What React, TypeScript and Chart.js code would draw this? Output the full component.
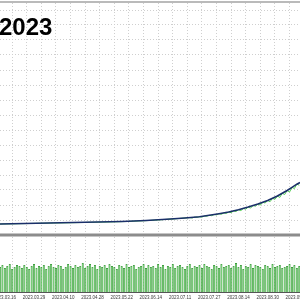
import React, { useEffect, useRef } from "react";
import { Chart, registerables } from "chart.js";
Chart.register(...registerables);

const titleText = "2023";
const tickLabels = [
  "2023.03.16", "2023.03.29", "2023.04.10", "2023.04.28", "2023.05.22", "2023.06.14",
  "2023.07.11", "2023.07.27", "2023.08.14", "2023.08.30", "2023.09.15",
];
const tradeMin = -2;
const tradeMax = 121.3;
const labelEvery = 12;
const gridEvery = 6;

const balanceTrades = [-2, 8, 18, 28, 38, 48, 58, 68, 74, 80, 84, 88, 92, 96, 100, 104, 108, 112, 116, 118, 120, 121.3];
const balanceValues = [1100, 1150, 1200, 1250, 1300, 1350, 1450, 1600, 1700, 1830, 1970, 2130, 2300, 2530, 2800, 3100, 3450, 3900, 4450, 4760, 5080, 5250];

const equityTrades = [
  -2, 10, 20, 30, 40, 50, 60, 70, 76, 77, 78, 79, 80, 81, 82, 83, 84, 85, 86, 87, 88, 89, 90, 91, 92, 93, 94, 95, 96, 97,
  98, 99, 100, 101, 102, 103, 104, 105, 106, 107, 108, 109, 110, 111, 112, 113, 114, 115, 116, 117, 118, 119, 120, 121,
];
const equityValues = [
  1100, 1150, 1200, 1240, 1290, 1350, 1460, 1620, 1740, 1700, 1790, 1760, 1830, 1790, 1900, 1880, 1970, 1930, 2050, 2010,
  2130, 2070, 2210, 2160, 2300, 2230, 2410, 2350, 2530, 2440, 2650, 2580, 2800, 2690, 2950, 2880, 3100, 2990, 3270, 3200,
  3450, 3330, 3670, 3560, 3900, 3760, 4170, 4050, 4450, 4300, 4760, 4650, 5080, 4980,
];

const loadValues = [
  25, 27, 24, 26, 28, 23, 25, 27, 26, 24,
  27, 25, 23, 26, 28, 24, 26, 25, 27, 23,
  26, 28, 25, 24, 27, 26, 23, 25, 28, 26,
  24, 27, 25, 26, 29, 24, 26, 28, 25, 27,
  23, 26, 25, 27, 24, 28, 26, 25, 23, 27,
  26, 24, 28, 25, 26, 27, 23, 25, 26, 28,
  24, 27, 25, 26, 24, 28, 25, 27, 23, 26,
  25, 28, 24, 26, 27, 25, 23, 26, 28, 24,
  26, 25, 27, 24, 28, 26, 25, 23, 27, 26,
  24, 28, 25, 26, 27, 24, 26, 29, 25, 27,
  23, 26, 25, 28, 24, 27, 26, 25, 23, 27,
  26, 24, 28, 25, 26, 27, 24, 25, 26, 28,
  25, 27, 24, 26,
];

const yMin = -5700;
const yMax = 23200;
const yStep = 1500;

const panelPlugin = {
  id: "panels",
  afterDatasetsDraw(chart: any) {
    const { ctx, chartArea } = chart;
    const y = chart.scales.y;
    ctx.save();
    ctx.strokeStyle = "#a3a3a3";
    ctx.lineWidth = 1.5;
    ctx.beginPath();
    ctx.moveTo(chartArea.left, chartArea.top - 1);
    ctx.lineTo(chartArea.right, chartArea.top - 1);
    ctx.stroke();
    const sep = y.getPixelForValue(0);
    ctx.strokeStyle = "#8c8c8c";
    ctx.lineWidth = 3;
    ctx.beginPath();
    ctx.moveTo(chartArea.left, sep);
    ctx.lineTo(chartArea.right, sep);
    ctx.stroke();
    ctx.restore();
  },
};

export default function App() {
  const ref = useRef<HTMLCanvasElement>(null);
  useEffect(() => {
    if (!ref.current) return;
    const chart = new Chart(ref.current, {
      type: "bar",
      data: {
        datasets: [
          {
            type: "line",
            label: "Balance",
            data: balanceTrades.map((t, i) => ({ x: t, y: balanceValues[i] })),
            borderColor: "#1b2f6a",
            borderWidth: 1.6,
            pointRadius: 0,
            yAxisID: "y",
            order: 0,
          } as any,
          {
            type: "line",
            label: "Equity",
            data: equityTrades.map((t, i) => ({ x: t, y: equityValues[i] })),
            borderColor: "#52cf52",
            borderWidth: 1,
            pointRadius: 0,
            yAxisID: "y",
            order: 1,
          } as any,
          {
            type: "bar",
            label: "Load",
            data: loadValues.map((v, i) => ({ x: tradeMin + i, y: v })),
            backgroundColor: "#58c458",
            borderColor: "#2a922a",
            borderWidth: 0.7,
            barPercentage: 0.85,
            categoryPercentage: 1,
            yAxisID: "y2",
            order: 2,
          } as any,
        ],
      },
      options: {
        responsive: false,
        animation: false,
        layout: { padding: { top: 3, left: 0, right: 0, bottom: 0 } },
        plugins: { legend: { display: false }, tooltip: { enabled: false }, title: { display: false } },
        scales: {
          x: {
            type: "linear",
            min: tradeMin,
            max: tradeMax,
            offset: false,
            afterBuildTicks(scale: any) {
              const ticks = [];
              for (let v = 0; v <= tradeMax; v += gridEvery) ticks.push({ value: v });
              scale.ticks = ticks;
            },
            afterFit(scale: any) {
              scale.height = 8;
              scale.paddingLeft = 0;
              scale.paddingRight = 0;
            },
            grid: { color: "#cfcfcf", drawTicks: false, lineWidth: 1 },
            border: { display: true, color: "#555555", width: 1, dash: [1, 2] },
            ticks: {
              autoSkip: false,
              maxRotation: 0,
              padding: 3,
              color: "#3a3a3a",
              font: { family: "Arial", size: 4.5 },
              callback: (v: any) => (v % labelEvery === 0 ? tickLabels[v / labelEvery] ?? "" : ""),
            },
          },
          y: {
            type: "linear",
            min: yMin,
            max: yMax,
            position: "left",
            afterBuildTicks(scale: any) {
              const ticks = [];
              for (let v = 0; v <= yMax; v += yStep) ticks.push({ value: v });
              scale.ticks = ticks;
            },
            afterFit(scale: any) {
              scale.width = 0;
            },
            grid: { color: "#cfcfcf", drawTicks: false, lineWidth: 1 },
            border: { display: false, dash: [1, 2] },
            ticks: { display: false },
          },
          y2: {
            type: "linear",
            min: 0,
            max: 289,
            display: false,
          },
        },
      },
      plugins: [panelPlugin],
    } as any);
    return () => chart.destroy();
  }, []);
  return (
    <div style={{ position: "fixed", left: 0, top: 0, width: 300, height: 300, background: "#fff", overflow: "hidden" }}>
      <canvas ref={ref} width={300} height={300} style={{ position: "absolute", left: 0, top: 0, width: 300, height: 300 }} />
      <div
        style={{
          position: "absolute",
          left: -1,
          top: 15,
          fontFamily: "Arial, 'Liberation Sans', sans-serif",
          fontWeight: "bold",
          fontSize: 24,
          lineHeight: "24px",
          color: "#000",
        }}
      >
        {titleText}
      </div>
    </div>
  );
}
